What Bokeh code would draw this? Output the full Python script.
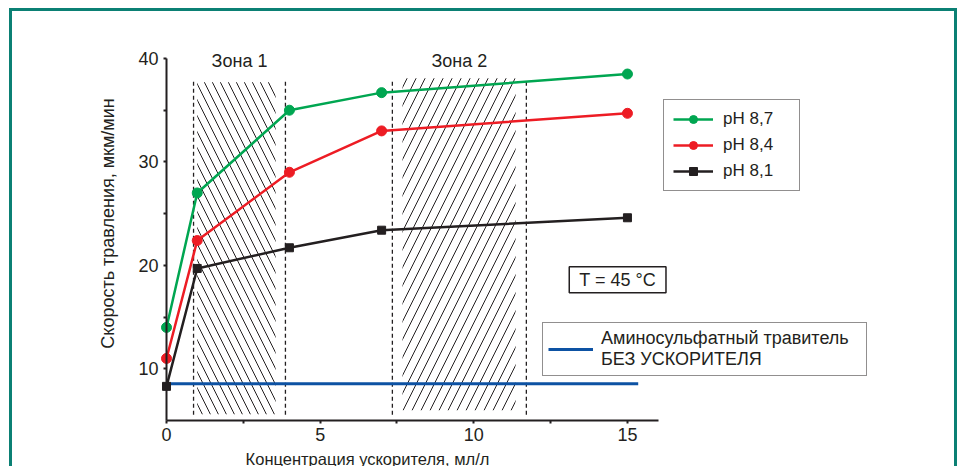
import math
from bokeh.plotting import figure
from bokeh.models import Range1d, FixedTicker, Legend, LegendItem, Label
from bokeh.embed import file_html
from bokeh.resources import INLINE
from bokeh.core.properties import value

# ---- data ----
conc = [0, 1, 4, 7, 15]
ph87 = [14.0, 27.0, 35.0, 36.7, 38.5]
ph84 = [11.0, 22.4, 29.0, 33.0, 34.7]
ph81 = [8.3, 19.7, 21.7, 23.4, 24.6]
base_x = [0, 15.35]
base_y = [8.55, 8.55]
zone_names = ["Зона 1", "Зона 2"]
zone1_edges = [0.88, 3.87]
zone2_edges = [7.35, 11.71]
zone1_hatch = [1.0, 3.55, 5.6, 37.7]
zone2_hatch = [7.68, 11.36, 6.0, 38.1]
dash_span = [5.55, 37.9]
x_ticks = [0, 5, 10, 15]
x_minor = [2.5, 7.5, 12.5]
y_ticks = [10, 20, 30, 40]
y_minor = [15, 25, 35]

FONT = "Liberation Sans"
INK = "#231f20"
GREEN = "#00a651"
RED = "#ed1c24"
BLUE = "#0d52a3"
TEAL = "#0b8074"

p = figure(width=948, height=500, output_backend="svg", toolbar_location=None,
           x_range=Range1d(-3.710, 25.838), y_range=Range1d(0.069, 44.544),
           min_border_left=40, min_border_right=0, min_border_top=0, min_border_bottom=40)
p.styles = {"border": f"3px solid {TEAL}", "margin-left": "9px", "margin-top": "8px"}
p.grid.visible = False
p.outline_line_color = None
p.background_fill_color = "white"
p.border_fill_color = "white"

# axes
for ax in (p.xaxis[0], p.yaxis[0]):
    ax.axis_line_color = INK
    ax.axis_line_width = 2
    ax.major_tick_line_color = INK
    ax.minor_tick_line_color = INK
    ax.major_tick_line_width = 2
    ax.minor_tick_line_width = 2
    ax.major_tick_in = 0
    ax.major_tick_out = 3
    ax.minor_tick_in = 0
    ax.minor_tick_out = 3
    ax.major_label_text_font = FONT
    ax.major_label_text_font_size = "18px"
    ax.major_label_text_color = INK
    ax.major_label_standoff = 5
p.xaxis[0].ticker = FixedTicker(ticks=x_ticks, minor_ticks=x_minor)
p.yaxis[0].ticker = FixedTicker(ticks=y_ticks, minor_ticks=y_minor)
p.xaxis[0].bounds = (0, 16)
p.yaxis[0].bounds = (5, 40)
p.yaxis[0].fixed_location = 0
p.xaxis[0].fixed_location = 5

# zones
p.quad(left=[zone1_hatch[0]], right=[zone1_hatch[1]], bottom=[zone1_hatch[2]], top=[zone1_hatch[3]],
       fill_color=None, line_color=None, hatch_pattern="left_diagonal_line",
       hatch_color=INK, hatch_scale=16, hatch_weight=1)
p.quad(left=[zone2_hatch[0]], right=[zone2_hatch[1]], bottom=[zone2_hatch[2]], top=[zone2_hatch[3]],
       fill_color=None, line_color=None, hatch_pattern="right_diagonal_line",
       hatch_color=INK, hatch_scale=18, hatch_weight=1)
edges = zone1_edges + zone2_edges
p.segment(x0=edges, x1=edges, y0=[dash_span[0]] * 4, y1=[dash_span[1]] * 4,
          line_color=INK, line_width=1.3, line_dash="4 3")
zone_cx = [sum(zone1_edges) / 2, sum(zone2_edges) / 2]
p.text(x=zone_cx, y=[39.8, 39.8], text=zone_names, text_font=value(FONT), text_font_size="18px",
       text_align="center", text_baseline="middle", text_color=INK)

# baseline (no accelerator)
bl = p.line(base_x, base_y, line_color=BLUE, line_width=3)

# series
l1 = p.line(conc, ph87, line_color=GREEN, line_width=2.5)
s1 = p.scatter(conc, ph87, marker="circle", size=10, fill_color=GREEN, line_color=GREEN)
l2 = p.line(conc, ph84, line_color=RED, line_width=2.5)
s2 = p.scatter(conc, ph84, marker="circle", size=10, fill_color=RED, line_color=RED)
l3 = p.line(conc, ph81, line_color=INK, line_width=2.5)
s3 = p.scatter(conc, ph81, marker="square", size=8, fill_color=INK, line_color=INK)

leg = Legend(items=[LegendItem(label="pH 8,7", renderers=[l1, s1]),
                    LegendItem(label="pH 8,4", renderers=[l2, s2]),
                    LegendItem(label="pH 8,1", renderers=[l3, s3])],
             location=(611, 280), border_line_color=INK, border_line_width=1.5,
             background_fill_color="white", background_fill_alpha=1,
             label_text_font=FONT, label_text_font_size="17px", label_text_color=INK,
             glyph_width=40, glyph_height=20, label_height=20, label_width=67,
             label_standoff=10, spacing=6, padding=9, margin=0)
p.add_layout(leg)

leg2 = Legend(items=[LegendItem(label="Аминосульфатный травитель\nБЕЗ УСКОРИТЕЛЯ", renderers=[bl])],
              location=(490, 95), border_line_color=INK, border_line_width=1.5,
              background_fill_color="white", background_fill_alpha=1,
              label_text_font=FONT, label_text_font_size="18px", label_text_color=INK,
              glyph_width=45, glyph_height=20, label_standoff=8, label_width=260,
              spacing=0, padding=5, margin=0)
p.add_layout(leg2)

tlab = Label(x=14.68, y=18.60, text="T = 45 °C", text_align="center", text_baseline="middle",
             text_font=FONT, text_font_size="18px", text_color=INK,
             border_line_color=INK, border_line_width=1.5,
             background_fill_color="white", padding=(10, 10, 3, 3))
p.add_layout(tlab)

ylab = Label(x=-1.92, y=24.05, text="Скорость травления, мкм/мин", angle=math.pi / 2,
             text_align="center", text_baseline="middle",
             text_font=FONT, text_font_size="18px", text_color=INK)
p.add_layout(ylab)
xlab = Label(x=6.54, y=1.30, text="Концентрация ускорителя, мл/л",
             text_align="center", text_baseline="middle",
             text_font=FONT, text_font_size="16.5px", text_color=INK)
p.add_layout(xlab)

open("out.html", "w").write(file_html(p, INLINE))
